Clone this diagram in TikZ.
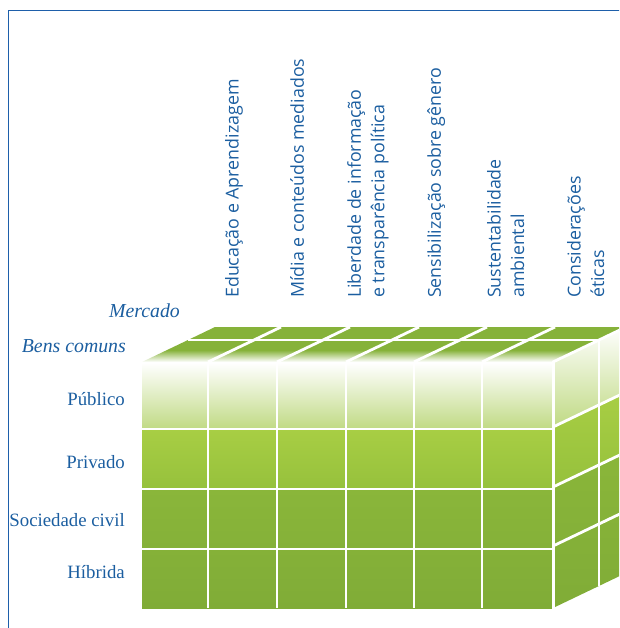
\documentclass[tikz,border=0pt]{standalone}
\usepackage{fontspec}
\setmainfont{Liberation Serif}
\newfontfamily\colfont{Open Sans}
\definecolor{txtblue}{RGB}{27,94,160}
\definecolor{frameblue}{RGB}{30,95,170}
\definecolor{topgreen}{RGB}{134,178,58}
\definecolor{gA}{RGB}{192,218,132}
\definecolor{gB1}{RGB}{168,206,68}
\definecolor{gB2}{RGB}{150,193,60}
\definecolor{gC1}{RGB}{138,182,58}
\definecolor{gC2}{RGB}{128,172,55}
\pgfdeclareverticalshading{topfade}{100bp}{color(0bp)=(white); color(25bp)=(white); color(40bp)=(topgreen!55!white); color(52bp)=(topgreen); color(100bp)=(topgreen)}
\tikzset{
  gridline/.style={draw=white, line width=2.8pt},
  rowlab/.style={anchor=base east, text=txtblue, inner sep=0pt, font=\fontsize{18.8}{20}\selectfont},
  dimlab/.style={anchor=base east, text=txtblue, inner sep=0pt, font=\fontsize{19.8}{21}\selectfont\itshape},
  collab/.style={rotate=90, anchor=north west, text=txtblue, inner sep=0pt, align=left, font=\colfont\fontsize{17.8}{23.5}\selectfont},
}
\begin{document}
\begin{tikzpicture}[x=1pt,y=-1pt]
\useasboundingbox (0,0) rectangle (619,628);
\clip (0,0) rectangle (619,628);
% frame
\draw[frameblue, line width=1.8pt] (8.5,640) -- (8.5,10.5) -- (640,10.5);

% top face
\fill[topgreen] (188,340) -- (599,340) -- (626,327) -- (215,327) -- cycle;
\shade[shading=topfade] (142,362) -- (553,362) -- (599,340) -- (188,340) -- cycle;

% front face
\shade[top color=white, bottom color=gA] (142,363) rectangle (553,429);
\shade[top color=gB1, bottom color=gB2] (142,429) rectangle (553,489);
\shade[top color=gC1, bottom color=gC2] (142,489) rectangle (553,608);

% right face
\shade[top color=white, bottom color=gA] (553,362) -- (626,327) -- (626,392) -- (553,427) -- cycle;
\shade[top color=gB1, bottom color=gB2] (553,427) -- (626,392) -- (626,452) -- (553,487) -- cycle;
\shade[top color=gC1, bottom color=gC2] (553,487) -- (626,452) -- (626,573) -- (553,608) -- cycle;

% grid lines: top face
\foreach \x in {208,277,346,414,482}{
  \draw[gridline] (\x,362) -- (\x+46,340) -- (\x+73,327);
}
\draw[gridline] (188,340) -- (599,340);
\draw[gridline] (553,362) -- (599,340) -- (626,327);
% grid lines: front face
\foreach \x in {208,277,346,414,482}{
  \draw[gridline] (\x,362) -- (\x,608);
}
\foreach \y in {429,489,549}{
  \draw[gridline] (142,\y) -- (553,\y);
}
\draw[gridline, line width=3pt] (553.5,361) -- (553.5,609);
% grid lines: right face
\draw[gridline] (599,340) -- (599,586);
\foreach \y in {427,487,546}{
  \draw[gridline] (553,\y) -- (626,\y-35);
}

% row labels
\node[rowlab] (publico) at (125,405) {Público};
\node[rowlab] (privado) at (125,468) {Privado};
\node[rowlab] (sociedade) at (125,526) {Sociedade civil};
\node[rowlab] (hibrida) at (125,578) {Híbrida};
\node[dimlab] (mercado) at (180,317) {Mercado};
\node[dimlab] (bens) at (126,352) {Bens comuns};

% column labels
\node[collab] (c1) at (225,298) {Educação e Aprendizagem};
\node[collab] (c2) at (290,298) {Mídia e conteúdos mediados};
\node[collab] (c3) at (347,298) {Liberdade de informação\\e transparência política};
\node[collab] (c4) at (427,298) {Sensibilização sobre gênero};
\node[collab] (c5) at (487,298) {Sustentabilidade\\ambiental};
\node[collab] (c6) at (567,298) {Considerações\\éticas};
\end{tikzpicture}
\end{document}
